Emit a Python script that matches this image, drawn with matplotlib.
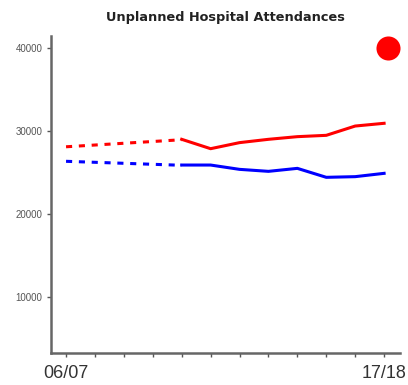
import matplotlib
matplotlib.use("Agg")
import matplotlib.pyplot as plt

plt.rcParams["font.family"] = ["Liberation Sans", "DejaVu Sans"]

TITLE = "Unplanned Hospital Attendances"
YEARS = ["06/07", "07/08", "08/09", "09/10", "10/11", "11/12",
         "12/13", "13/14", "14/15", "15/16", "16/17", "17/18"]

# dashed (estimated) segment: first and fifth year only
est_idx = [0, 4]
red_est = [28100, 28950]
blue_est = [26350, 25870]

# solid (actual) segment
act_idx = [4, 5, 6, 7, 8, 9, 10, 11]
red_act = [29000, 27870, 28600, 29000, 29320, 29480, 30600, 30930]
blue_act = [25900, 25900, 25380, 25140, 25500, 24420, 24500, 24900]

# status dot
dot_x = 11.15
dot_y = 40000

fig = plt.figure(figsize=(4.08, 3.85), dpi=100)
ax = fig.add_axes([51 / 408, 1 - 353 / 385, 349 / 408, 317 / 385])

ax.plot(est_idx, red_est, color="#ff0000", lw=2.2, ls=(0, (2.0, 2.2)))
ax.plot(est_idx, blue_est, color="#0000ff", lw=2.2, ls=(0, (2.0, 2.2)))
ax.plot(act_idx, red_act, color="#ff0000", lw=2.2)
ax.plot(act_idx, blue_act, color="#0000ff", lw=2.2)
ax.scatter([dot_x], [dot_y], s=300, color="#ff0000", zorder=4, linewidths=0)

ax.set_xlim(-0.52, 11.55)
ax.set_ylim(3250, 41450)

ax.set_xticks(range(len(YEARS)))
ax.set_xticklabels([y if i in (0, len(YEARS) - 1) else "" for i, y in enumerate(YEARS)],
                   fontsize=13, color="#333333")
ax.set_yticks([10000, 20000, 30000, 40000])
ax.set_yticklabels(["10000", "20000", "30000", "40000"], fontsize=7, color="#555555")
ax.tick_params(axis="x", length=3, width=1, color="#555555", pad=6)
ax.tick_params(axis="y", length=3, width=1, color="#555555", pad=3)

for side in ("top", "right"):
    ax.spines[side].set_visible(False)
for side in ("left", "bottom"):
    ax.spines[side].set_color("#666666")
    ax.spines[side].set_linewidth(1.8)

fig.text(225 / 408, 1 - 17 / 385, TITLE, ha="center", va="center",
         fontsize=9.3, fontweight="bold", color="#222222", family="DejaVu Sans")

fig.savefig("out.png", dpi=100)
